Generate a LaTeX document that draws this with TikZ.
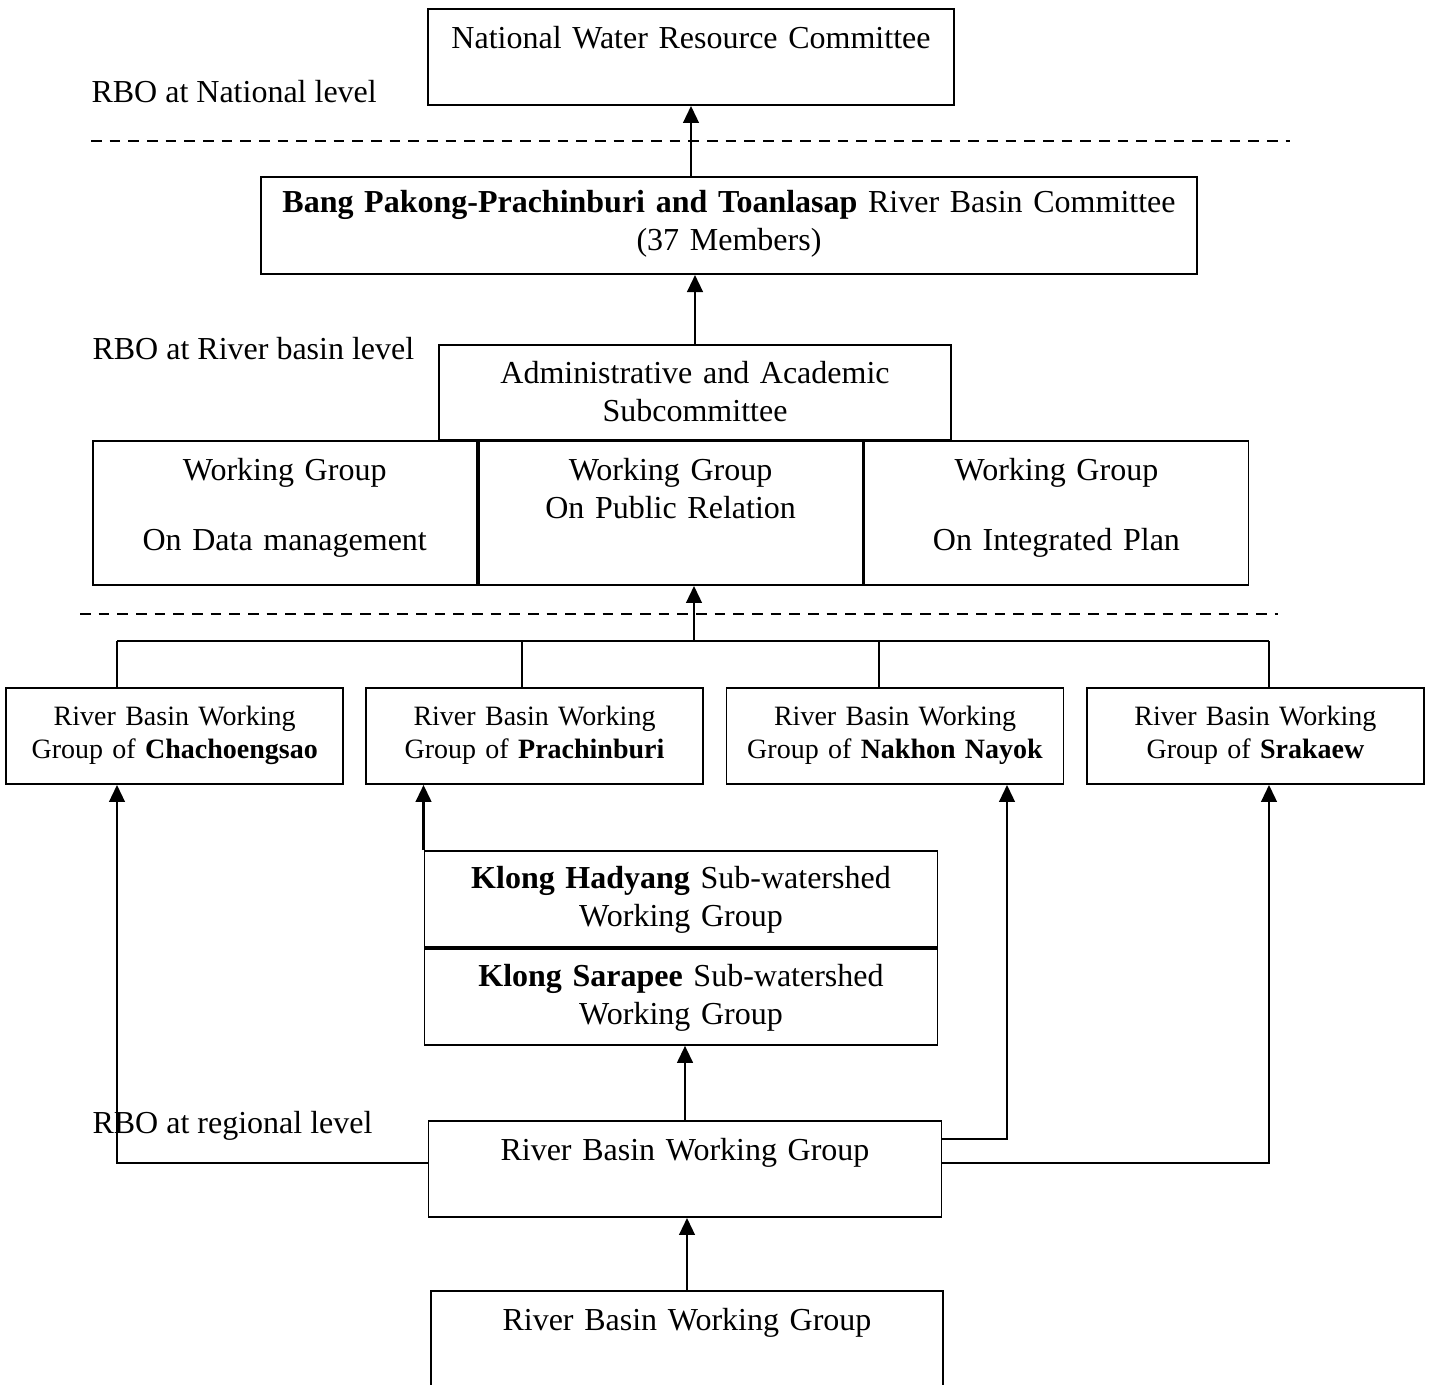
\documentclass[tikz,border=0pt]{standalone}
\usepackage{fontspec}
\setmainfont{Liberation Serif}
\usetikzlibrary{arrows.meta}

\begin{document}
\begin{tikzpicture}[x=0.375pt, y=-0.375pt,
  font=\fontsize{12}{14.25}\selectfont,
  box/.style n args={3}{draw, line width=0.7pt, anchor=north, inner sep=0pt,
    align=center, text width=#1, text height=#2, text depth=#3},
  small/.style={font=\fontsize{10.5}{12.4}\selectfont},
  arr/.style={-{Triangle[length=6.4pt,width=5.8pt]}, line width=1.05pt},
  link/.style={line width=0.7pt},
  sep/.style={dash pattern=on 4pt off 3pt, line width=0.5pt},
  lvl/.style={anchor=base west, inner sep=0pt}]
\path[use as bounding box, clip] (0,0) rectangle (1429,1384);

% levels
\node[lvl] (lvlNat) at (91,103) {RBO at National level};
\node[lvl] (lvlBasin) at (92,359) {RBO at River basin level};
\node[lvl] (lvlReg) at (92,1133) {RBO at regional level};
\draw[sep] (91,141) -- (1290,141);
\draw[sep] (80,614) -- (1278,614);

% national and basin committees
\node[box={197.25pt}{15pt}{21pt}] (nwrc) at (691,8) {National Water Resource Committee};
\node[box={351pt}{13.5pt}{22.9pt}] (bang) at (729,176)
  {\textbf{Bang Pakong-Prachinburi and Toanlasap} River Basin Committee\\(37 Members)};
\node[box={192pt}{14.6pt}{21pt}] (aas) at (695,344) {Administrative and Academic\\Subcommittee};
\node[box={144pt}{15pt}{39pt}] (wg1) at (284.7,440) {Working Group\\[12pt]On Data management};
\node[box={144pt}{15pt}{39pt}, anchor=north west] (wg2) at (wg1.north east) {Working Group\\On Public Relation};
\node[box={144pt}{15pt}{39pt}, anchor=north west] (wg3) at (wg2.north east) {Working Group\\[12pt]On Integrated Plan};

% province working groups
\node[box={126.4pt}{13.9pt}{22.1pt}, small] (chacho) at (174.7,687) {River Basin Working\\Group of \textbf{Chachoengsao}};
\node[box={126.4pt}{13.9pt}{22.1pt}, small] (prac) at (534.5,687) {River Basin Working\\Group of \textbf{Prachinburi}};
\node[box={126.4pt}{13.9pt}{22.1pt}, small] (nakhon) at (895,687) {River Basin Working\\Group of \textbf{Nakhon Nayok}};
\node[box={126.4pt}{13.9pt}{22.1pt}, small] (srakaew) at (1255.4,687) {River Basin Working\\Group of \textbf{Srakaew}};

% sub-watersheds and regional groups
\node[box={192.4pt}{14.25pt}{21.75pt}] (klong1) at (681,850) {\textbf{Klong Hadyang} Sub-watershed\\Working Group};
\node[box={192.4pt}{14.25pt}{21.75pt}] (klong2) at (klong1.south) {\textbf{Klong Sarapee} Sub-watershed\\Working Group};
\node[box={192.4pt}{15pt}{21pt}] (rbwg) at (685,1120) {River Basin Working Group};
\node[box={192.2pt}{15pt}{40pt}] (rbwg2) at (687,1290) {River Basin Working Group};

\coordinate (brL) at (117,641);
\coordinate (br2) at (522,641);
\coordinate (brM) at (694,641);
\coordinate (br3) at (879,641);
\coordinate (brR) at (1269,641);
\coordinate (colN) at (1007,1138);

% connectors
\draw[arr] (nwrc.south |- bang.north) -- (nwrc.south);
\draw[arr] (aas.north) -- (aas.north |- bang.south);
\draw[link] (brL) -- (brR);
\draw[link] (brL) -- (brL |- chacho.north);
\draw[link] (br2) -- (br2 |- prac.north);
\draw[link] (br3) -- (br3 |- nakhon.north);
\draw[link] (brR) -- (brR |- srakaew.north);
\draw[arr] (brM) -- (brM |- wg2.south);
\draw[arr] (klong1.north west) -- (klong1.north west |- prac.south);
\draw[arr] (rbwg.north) -- (rbwg.north |- klong2.south);
\draw[arr] ([yshift=2.25pt]rbwg.west) -| (chacho.south -| brL);
\draw[arr] ([yshift=11.25pt]rbwg.east) -| (nakhon.south -| colN);
\draw[arr] ([yshift=2.25pt]rbwg.east) -| (srakaew.south -| brR);
\draw[arr] (rbwg2.north) -- (rbwg2.north |- rbwg.south);
\end{tikzpicture}
\end{document}
